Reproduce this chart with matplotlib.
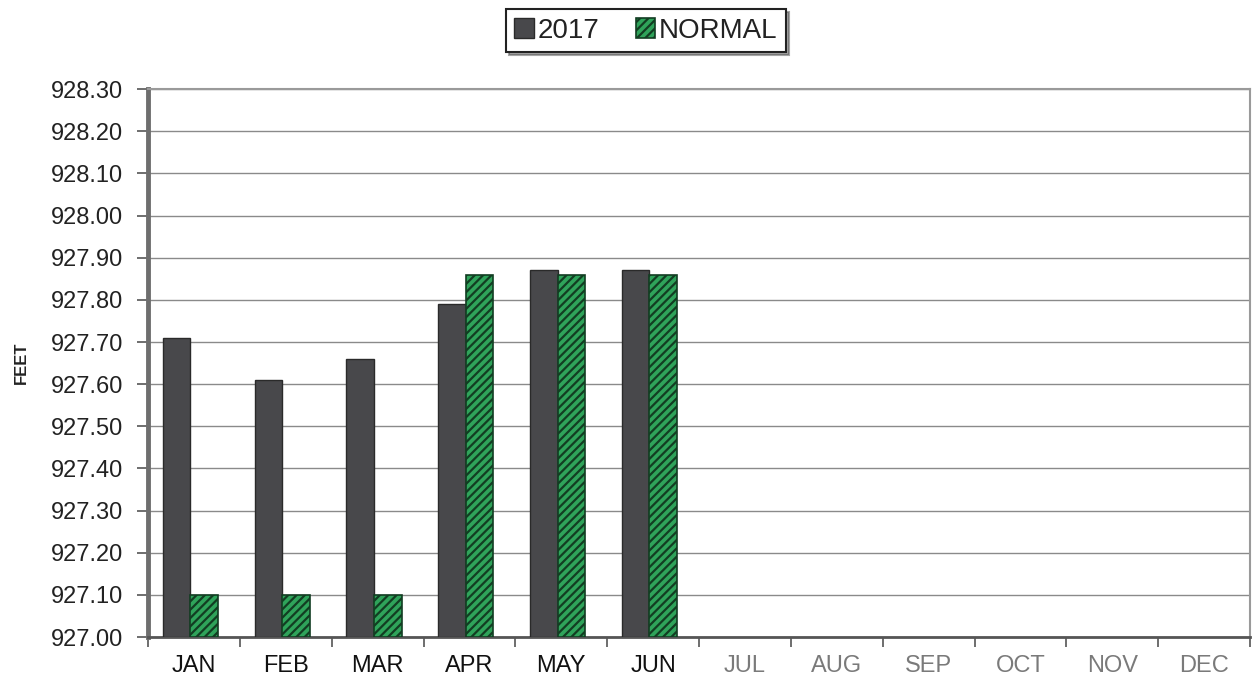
"""
Nível do lago por mês: 2017 contra o normal.
"""

import numpy as np
import matplotlib
matplotlib.use('Agg')
import matplotlib.pyplot as plt
from matplotlib.ticker import MultipleLocator, FixedLocator

plt.rcParams['font.family'] = ['Liberation Sans', 'DejaVu Sans']
plt.rcParams['hatch.linewidth'] = 1.6

# Dados
months = ['JAN', 'FEB', 'MAR', 'APR', 'MAY', 'JUN',
          'JUL', 'AUG', 'SEP', 'OCT', 'NOV', 'DEC']
level_2017 = [927.71, 927.61, 927.66, 927.79, 927.87, 927.87]
level_normal = [927.10, 927.10, 927.10, 927.86, 927.86, 927.86]
y_min, y_max = 927.00, 928.30

fig = plt.figure(figsize=(12.59, 6.81), dpi=100)
ax = fig.add_axes([0.1176, 0.0646, 0.8753, 0.8044])

x = np.arange(len(level_2017))
base = y_min
ax.bar(x - 0.19, np.array(level_2017) - base, bottom=base, width=0.30,
       color='#48484b', edgecolor='#2a2a2a', linewidth=1.0, label='2017', zorder=3)
ax.bar(x + 0.11, np.array(level_normal) - base, bottom=base, width=0.30,
       color='#2fa35a', edgecolor='#123d22', hatch='////', linewidth=1.2,
       label='NORMAL', zorder=3)

ax.set_xlim(-0.5, len(months) - 0.5)
ax.set_ylim(y_min, y_max)
ax.yaxis.set_major_locator(MultipleLocator(0.10))
ax.yaxis.set_major_formatter(plt.FuncFormatter(lambda v, p: f'{v:.2f}'))
ax.grid(True, axis='y', color='#8a8a8a', linewidth=1.0, zorder=0)

ax.set_xticks(np.arange(len(months)))
ax.set_xticklabels(months, fontsize=17)
for i, lbl in enumerate(ax.get_xticklabels()):
    lbl.set_color('#111111' if i < len(level_2017) else '#7a7a7a')
ax.tick_params(axis='x', which='major', length=0, pad=13)
ax.xaxis.set_minor_locator(FixedLocator(np.arange(-0.5, len(months), 1.0)))
ax.tick_params(axis='x', which='minor', length=7, width=1.2, color='#555555')
ax.tick_params(axis='y', labelsize=17, length=8, width=1.2, color='#555555',
               labelcolor='#222222', pad=10)

for side in ['top', 'right']:
    ax.spines[side].set_color('#9a9a9a')
    ax.spines[side].set_linewidth(1.5)
ax.spines['left'].set_color('#6e6e6e')
ax.spines['left'].set_linewidth(3.5)
ax.spines['bottom'].set_color('#555555')
ax.spines['bottom'].set_linewidth(2.0)

ax.set_ylabel('FEET', fontsize=12, fontweight='bold', labelpad=16, color='#222222')

leg = fig.legend(loc='center', bbox_to_anchor=(0.513, 0.955), ncol=2,
                 fontsize=20, frameon=True, fancybox=False, shadow=True,
                 edgecolor='#222222', handlelength=0.7, handleheight=0.7,
                 handletextpad=0.15, columnspacing=1.3, borderpad=0.3,
                 borderaxespad=0.3)
leg.get_frame().set_linewidth(1.5)
for t in leg.get_texts():
    t.set_color('#222222')

fig.savefig('out.png', dpi=100)
plt.close(fig)
